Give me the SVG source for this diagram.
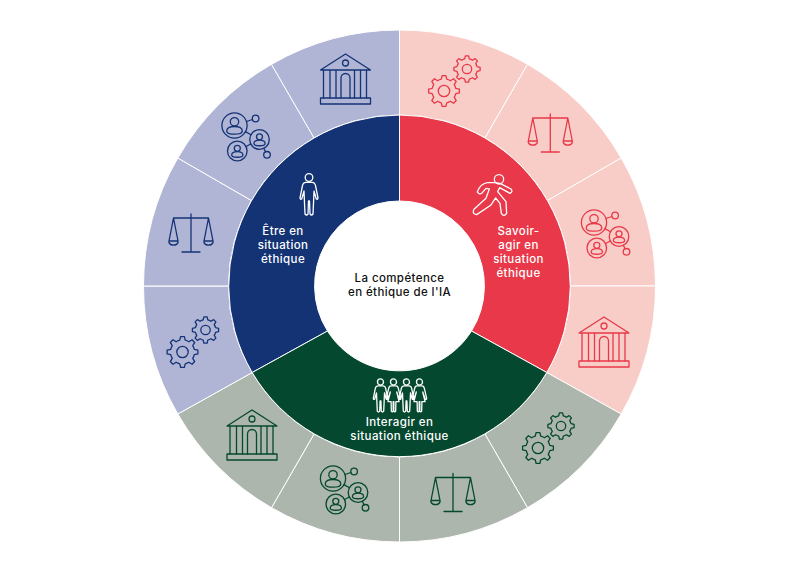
<svg xmlns="http://www.w3.org/2000/svg" width="799" height="571" viewBox="0 0 799 571">
<style>
text{font-family:"Inter","Noto Sans",sans-serif;font-weight:500;text-anchor:middle;font-size:11.5px;letter-spacing:.4px;fill:#fff}
.ctr{fill:#111}
.sec{stroke:#fff;stroke-width:1}
.ico{fill:none;stroke-width:1.3;stroke-linejoin:round;stroke-linecap:round}
.r{stroke:#e83849}.n{stroke:#133375}.g{stroke:#04482f}.w{stroke:#fff}
.ns{vector-effect:non-scaling-stroke}
</style>
<defs>
<g id="bank"><path d="M0-25L-25-9H25ZM-22-9V19M-15.5-9V19M-9.5-9V19M9-9V19M15-9V19M21-9V19M-4.5 19V-1A4.5 4.5 0 0 1 4.5-1V19"/><circle cy="-16" r="3"/><rect x="-25" y="19" width="50" height="6"/></g>
<path id="gearp" class="ns" d="M7.6-1.75L9.93-1.22 9.93 1.22 7.6 1.75A7.8 7.8 0 0 1 6.61 4.13L7.88 6.16 6.16 7.88 4.13 6.61A7.8 7.8 0 0 1 1.75 7.6L1.22 9.93-1.22 9.93-1.75 7.6A7.8 7.8 0 0 1-4.13 6.61L-6.16 7.88-7.88 6.16-6.61 4.13A7.8 7.8 0 0 1-7.6 1.75L-9.93 1.22-9.93-1.22-7.6-1.75A7.8 7.8 0 0 1-6.61-4.13L-7.88-6.16-6.16-7.88-4.13-6.61A7.8 7.8 0 0 1-1.75-7.6L-1.22-9.93 1.22-9.93 1.75-7.6A7.8 7.8 0 0 1 4.13-6.61L6.16-7.88 7.88-6.16 6.61-4.13A7.8 7.8 0 0 1 7.6-1.75Z"/>
<g id="gears"><use href="#gearp" transform="translate(-11.5 11) scale(1.55)"/><circle cx="-11.5" cy="11" r="5.7"/><use href="#gearp" transform="translate(11.5 -11) scale(1.32)"/><circle cx="11.5" cy="-11" r="4.7"/></g>
<g id="scale"><path d="M0-19V19M-9 19H9M-17.5-15H17.5M-17.5-15L-22 8H-13ZM17.5-15L13 8H22ZM-22 8A4.5 4.5 0 0 0-22 9.5C-21 13-14 13-13 9.5A4.5 4.5 0 0 0-13 8M13 8A4.5 4.5 0 0 0 13 9.5C14 13 21 13 22 9.5A4.5 4.5 0 0 0 22 8"/></g>
<g id="pers"><circle class="ns" cy="-3.7" r="4.2"/><path class="ns" d="M-7.8 5.5C-7.8 2-4 1 0 1S7.8 2 7.8 5.5C7.8 8.2 4 8.7 0 8.7S-7.8 8.2-7.8 5.5Z"/></g>
<g id="net"><circle cx="-11.5" cy="-10" r="12.6"/><circle cx="13.5" cy="4" r="9.8"/><circle cx="-8.7" cy="15.5" r="9.8"/><circle cx="9.6" cy="-17" r="3.3"/><circle cx="21" cy="19.3" r="3.3"/><path d="M.5-14L6.5-16M-.6-3.9L5-.8M0 11L4.8 8.5M17.8 12.8L19.6 16.3"/><use href="#pers" transform="translate(-11.5 -10)"/><use href="#pers" transform="translate(13.5 4) scale(.72)"/><use href="#pers" transform="translate(-8.7 15.5) scale(.72)"/></g>
<g id="man"><circle class="ns" cy="-17.5" r="3.8"/><path class="ns" d="M-3-12.7H3Q6-12.7 6.6-9L9 3Q8.8 4.8 7.3 4L5-4 4.5 8 4 19Q2.5 21 1 19L.5 6H-.5L-1 19Q-2.5 21-4 19L-4.5 8-5-4-7.3 4Q-8.8 4.8-9 3L-6.6-9Q-6-12.7-3-12.7Z"/></g>
<g id="woman"><circle class="ns" cy="-17.5" r="3.8"/><path class="ns" d="M-3-12.7H3Q5.5-12.7 6.2-9L9 3Q8.8 4.8 7.3 4L4-5 7 7H3L2.7 19Q1.5 20.5.4 19V7H-.4V19Q-1.5 20.5-2.7 19L-3 7H-7L-4-5-7.3 4Q-8.8 4.8-9 3L-6.2-9Q-5.5-12.7-3-12.7Z"/></g>
</defs>
<g id="connectors"/>
<g id="ring-savoir" fill="#f9cdc7" class="sec">
<path d="M399.5 30A256 256 0 0 1 527.5 64.3L485 137.9A171 171 0 0 0 399.5 115Z"/>
<path d="M527.5 64.3A256 256 0 0 1 621.2 158L547.6 200.5A171 171 0 0 0 485 137.9Z"/>
<path d="M621.2 158A256 256 0 0 1 655.5 286H570.5A171 171 0 0 0 547.6 200.5Z"/>
<path d="M655.5 286A256 256 0 0 1 621.2 414L546.8 372.5A171 171 0 0 0 570.5 286Z"/>
</g>
<g id="ring-interagir" fill="#adb6ac" class="sec">
<path d="M621.2 414A256 256 0 0 1 527.5 507.7L485 434.1A171 171 0 0 0 546.8 372.5Z"/>
<path d="M527.5 507.7A256 256 0 0 1 399.5 542V457A171 171 0 0 0 485 434.1Z"/>
<path d="M399.5 542A256 256 0 0 1 271.5 507.7L314 434.1A171 171 0 0 0 399.5 457Z"/>
<path d="M271.5 507.7A256 256 0 0 1 177.8 414L252.2 372.5A171 171 0 0 0 314 434.1Z"/>
</g>
<g id="ring-etre" fill="#b1b5d5" class="sec">
<path d="M177.8 414A256 256 0 0 1 143.5 286H228.5A171 171 0 0 0 252.2 372.5Z"/>
<path d="M143.5 286A256 256 0 0 1 177.8 158L251.4 200.5A171 171 0 0 0 228.5 286Z"/>
<path d="M177.8 158A256 256 0 0 1 271.5 64.3L314 137.9A171 171 0 0 0 251.4 200.5Z"/>
<path d="M271.5 64.3A256 256 0 0 1 399.5 30V115A171 171 0 0 0 314 137.9Z"/>
</g>
<g id="icons-savoir" class="ico r">
<use href="#gears" x="455.5" y="80"/><use href="#scale" x="550.3" y="133"/><use href="#net" x="605.5" y="232.5"/><use href="#bank" x="604" y="342"/>
</g>
<g id="icons-interagir" class="ico g">
<use href="#gears" x="549.5" y="437"/><use href="#scale" x="453" y="492.5"/><use href="#net" x="344.5" y="488.5"/><use href="#bank" x="252" y="435"/>
</g>
<g id="icons-etre" class="ico n">
<use href="#gears" x="194" y="341"/><use href="#scale" x="191" y="233"/><use href="#net" x="246" y="135.5"/><use href="#bank" x="345.5" y="79"/>
</g>
<g id="savoir-agir">
<path fill="#e83849" class="sec" d="M399.5 115A171 171 0 0 1 546.8 372.5L471.5 331A85 85 0 0 0 399.5 201Z"/>
<g class="ico w" transform="translate(400 20) scale(.3333)"><circle cx="297" cy="478" r="14" class="ns"/><path class="ns" d="M285 488L262 488Q240 492 232 516Q238 526 247 518L258 505 268 507 258 535 222 568Q215 582 230 584L272 556 287 534 300 550 304 580Q312 592 320 580L318 545 293 515 299 503 330 520Q340 515 333 507L300 490Z"/></g>
<text><tspan x="518.5" y="234.5">Savoir-</tspan><tspan x="518.5" y="248.5">agir en</tspan><tspan x="518.5" y="262.5">situation</tspan><tspan x="518.5" y="276.5">éthique</tspan></text>
</g>
<g id="etre">
<path fill="#133375" class="sec" d="M252.2 372.5A171 171 0 0 1 399.5 115V201A85 85 0 0 0 327.5 331Z"/>
<use href="#man" x="309" y="195" class="ico w"/>
<text><tspan x="283" y="234.5">Être en</tspan><tspan x="283" y="248.5">situation</tspan><tspan x="283" y="262.5">éthique</tspan></text>
</g>
<g id="interagir">
<path fill="#04482f" class="sec" d="M546.8 372.5A171 171 0 0 1 252.2 372.5L327.5 331A85 85 0 0 0 471.5 331Z"/>
<g class="ico w"><use href="#man" transform="translate(380.5 396) scale(.8)"/><use href="#woman" transform="translate(393.5 396) scale(.8)"/><use href="#man" transform="translate(406.5 396) scale(.8)"/><use href="#woman" transform="translate(419.5 396) scale(.8)"/></g>
<text><tspan x="399.5" y="426">Interagir en</tspan><tspan x="399.5" y="440">situation éthique</tspan></text>
</g>
<g id="centre">
<text class="ctr"><tspan x="399.5" y="282">La compétence</tspan><tspan x="399.5" y="296">en éthique de l'IA</tspan></text>
</g>
</svg>
